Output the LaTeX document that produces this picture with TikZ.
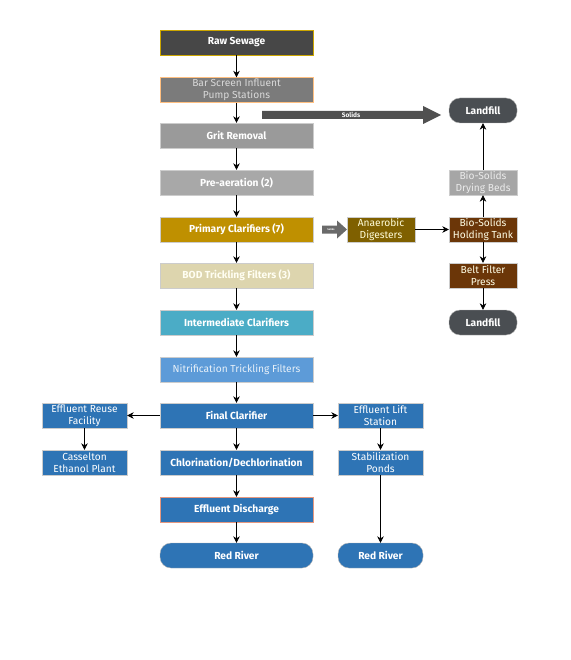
\documentclass[tikz,border=0pt]{standalone}
\usepackage{fontspec}
\setmainfont{Fira Sans}
\usetikzlibrary{arrows.meta}
\definecolor{cRaw}{HTML}{474747}
\definecolor{cBar}{HTML}{7B7B7B}
\definecolor{cGrit}{HTML}{9A9A9A}
\definecolor{cPre}{HTML}{A8A8A8}
\definecolor{cPrim}{HTML}{BF9000}
\definecolor{cBOD}{HTML}{DDD5AE}
\definecolor{cInter}{HTML}{4BACC6}
\definecolor{cNitr}{HTML}{5D9BD8}
\definecolor{cBlue}{HTML}{2E74B5}
\definecolor{cAna}{HTML}{7F6000}
\definecolor{cBrown}{HTML}{6B3608}
\definecolor{cLand}{HTML}{4A4E52}
\definecolor{cDry}{HTML}{A6A6A6}
\definecolor{cArr}{HTML}{505050}
\tikzset{
  box/.style={rectangle, draw=white!80!black, line width=0.4pt, text=white, align=center,
    minimum height=25pt, inner sep=0pt, font=\fontsize{10.2}{12}\selectfont},
  mainbox/.style={box, minimum width=153pt},
  sidebox/.style={box, minimum width=85pt},
  rbox/.style={box, minimum width=68pt},
  bold/.style={font=\fontsize{10.2}{12}\selectfont\bfseries},
  pill/.style={box, rounded corners=11pt, draw=white!70!black},
  conn/.style={-{Stealth[length=6.5pt,width=6.5pt]}, line width=0.6pt, black}
}
\begin{document}
\begin{tikzpicture}[x=1pt,y=-1pt]
\useasboundingbox (0,0) rectangle (570,660);
% main column
\node[mainbox,bold,fill=cRaw,draw=cPrim!80!yellow] (raw) at (236.5,42.5) {Raw Sewage};
\node[mainbox,fill=cBar,draw=orange!50!white,text=white!85!black] (bar) at (236.5,90) {Bar Screen Influent\\Pump Stations};
\node[mainbox,bold,fill=cGrit] (grit) at (236.5,135.5) {Grit Removal};
\node[mainbox,bold,fill=cPre] (pre) at (236.5,182.5) {Pre-aeration (2)};
\node[mainbox,bold,fill=cPrim] (prim) at (236.5,229.5) {Primary Clarifiers (7)};
\node[mainbox,bold,fill=cBOD,text=white!95!yellow] (bod) at (236.5,275.5) {BOD Trickling Filters (3)};
\node[mainbox,bold,fill=cInter] (inter) at (236.5,322.5) {Intermediate Clarifiers};
\node[mainbox,fill=cNitr,text=white!85!cNitr] (nitr) at (236.5,369.5) {Nitrification Trickling Filters};
\node[mainbox,bold,fill=cBlue] (final) at (236.5,415.5) {Final Clarifier};
\node[mainbox,bold,fill=cBlue] (chlor) at (236.5,462.5) {Chlorination/Dechlorination};
\node[mainbox,bold,fill=cBlue,draw=red!35!brown!60!white] (disch) at (236.5,509.5) {Effluent Discharge};
\node[pill,bold,fill=cBlue,minimum width=153pt] (river1) at (236.5,555.5) {Red River};
% left
\node[sidebox,fill=cBlue] (reuse) at (84.5,415.5) {Effluent Reuse\\Facility};
\node[sidebox,fill=cBlue] (cass) at (84.5,462.5) {Casselton\\Ethanol Plant};
% right lower
\node[sidebox,fill=cBlue] (lift) at (380.5,415.5) {Effluent Lift\\Station};
\node[sidebox,fill=cBlue] (stab) at (380.5,462.5) {Stabilization\\Ponds};
\node[pill,bold,fill=cBlue,minimum width=85pt] (river2) at (380.5,555.5) {Red River};
% right upper
\node[pill,bold,fill=cLand,minimum width=68pt] (land1) at (483,110.5) {Landfill};
\node[rbox,fill=cDry,text=white!92!black] (dry) at (483,182.5) {Bio-Solids\\Drying Beds};
\node[rbox,fill=cBrown,text=white!90!yellow] (hold) at (483,229.5) {Bio-Solids\\Holding Tank};
\node[rbox,fill=cBrown,text=white!90!yellow] (belt) at (483,275.5) {Belt Filter\\Press};
\node[pill,bold,fill=cLand,minimum width=68pt] (land2) at (483,322.5) {Landfill};
\node[rbox,fill=cAna,text=white!85!yellow] (ana) at (381,229.5) {Anaerobic\\Digesters};
% big solids arrow
\fill[cArr] (262,111) -- (423,111) -- (423,106) -- (441,115) -- (423,124) -- (423,119) -- (262,119) -- cycle;
\node[text=white,font=\fontsize{6.5}{7}\selectfont\bfseries,inner sep=0pt] (solids1) at (351,115) {Solids};
% small solids arrow
\fill[cArr!85!white] (322,225.5) -- (337,225.5) -- (337,220.5) -- (347,229.5) -- (337,238.5) -- (337,233.5) -- (322,233.5) -- cycle;
\node[text=white,font=\fontsize{2.5}{3}\selectfont\bfseries,inner sep=0pt] (solids2) at (331,229.5) {Solids};
% connectors
\draw[conn] (raw) -- (bar);
\draw[conn] (bar) -- (grit);
\draw[conn] (grit) -- (pre);
\draw[conn] (pre) -- (prim);
\draw[conn] (prim) -- (bod);
\draw[conn] (bod) -- (inter);
\draw[conn] (inter) -- (nitr);
\draw[conn] (nitr) -- (final);
\draw[conn] (final) -- (chlor);
\draw[conn] (chlor) -- (disch);
\draw[conn] (disch) -- (river1);
\draw[conn] (final) -- (reuse);
\draw[conn] (final) -- (lift);
\draw[conn] (reuse) -- (cass);
\draw[conn] (lift) -- (stab);
\draw[conn] (stab) -- (river2);
\draw[conn] (ana) -- (hold);
\draw[conn] (hold) -- (dry);
\draw[conn] (dry) -- (land1);
\draw[conn] (hold) -- (belt);
\draw[conn] (belt) -- (land2);
\end{tikzpicture}
\end{document}
